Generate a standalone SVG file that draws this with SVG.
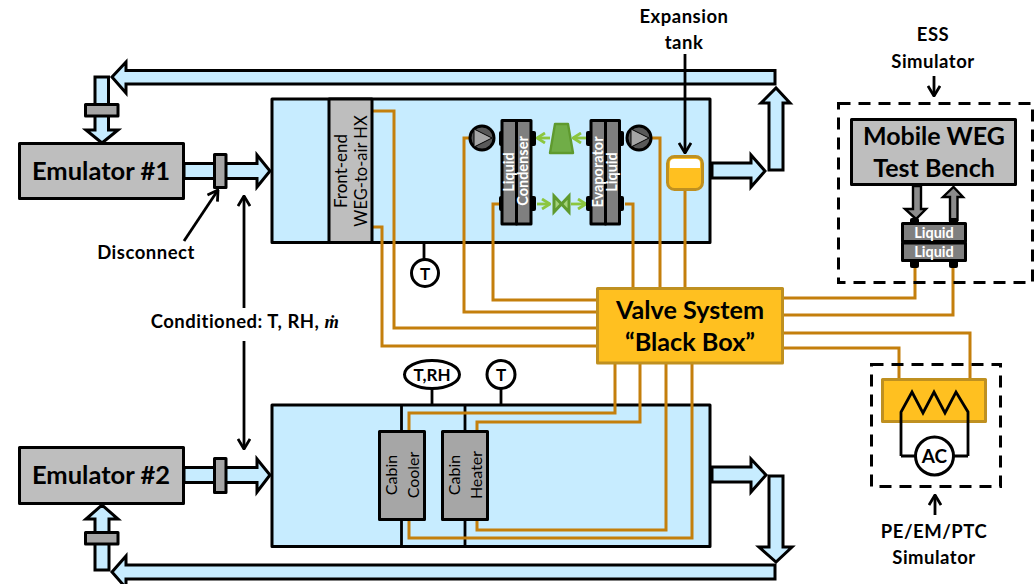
<svg xmlns="http://www.w3.org/2000/svg" width="1034" height="584" viewBox="0 0 1034 584">
<style>
text{font-family:Lato,"Open Sans","Liberation Sans",sans-serif;font-weight:700;fill:#000;text-anchor:middle}
.pipe{fill:#C7ECFF;stroke:#000;stroke-width:3;stroke-linejoin:miter}
.gray{fill:#BEBEBE;stroke:#000;stroke-width:3;stroke-linejoin:round}
.dgray{fill:#A6A6A6;stroke:#000;stroke-width:3;stroke-linejoin:round}
.box{fill:#C7ECFF;stroke:#000;stroke-width:3;stroke-linejoin:round}
.or{fill:none;stroke:#C47F0C;stroke-width:3}
.blk{fill:none;stroke:#000;stroke-width:2.800}
.gold{fill:#FFC020;stroke:#BF9020;stroke-width:3;stroke-linejoin:round}
.circ{fill:#fff;stroke:#000;stroke-width:3}
.hx{fill:#7F7F7F;stroke:#000;stroke-width:3;stroke-linejoin:round}
.tab{fill:#000}
.grn{fill:none;stroke:#8CC63F;stroke-width:2.800}
.wt{fill:#fff;font-size:14.500px}
.rot{font-size:16px;font-weight:400}
.dash{fill:none;stroke:#000;stroke-width:3;stroke-dasharray:12 8}
.lbl{font-size:18.500px;letter-spacing:.5px}
</style>
<defs>
<marker id="ah" viewBox="0 0 12 14" refX="11" refY="7" markerWidth="12" markerHeight="14" markerUnits="userSpaceOnUse" orient="auto"><path d="M1 1L11 7L1 13" fill="none" stroke="#000" stroke-width="2.800"/></marker>
<marker id="gh" viewBox="0 0 10 12" refX="9" refY="6" markerWidth="10" markerHeight="12" markerUnits="userSpaceOnUse" orient="auto"><path d="M1 1L9 6L1 11" fill="none" stroke="#8CC63F" stroke-width="2.800"/></marker>
</defs>

<g id="cabin-front-box"><rect class="box" x="272" y="99" width="438" height="143.500"/></g>
<g id="cabin-rear-box"><rect class="box" x="272" y="405" width="438" height="141.500"/>
<path class="blk" d="M401.500 405V431M401.500 520V546M465 405V431M465 520V546"/></g>

<g id="connectors">
<path class="pipe" d="M775 70.500H126V62L112 77L126 93V84H775Z"/>
<path class="pipe" d="M95 77H108.500V130H118L102 143L86 130H95Z"/>
<path class="pipe" d="M184 163.500H257V155L270 171L257 187V178.500H184Z"/>
<path class="pipe" d="M184 467.500H257V459L270 475L257 492V482.500H184Z"/>
<path class="pipe" d="M712 163H751V155L765 171L751 187V178H712Z"/>
<path class="pipe" d="M769 170V103H761L776 88L790 103H783V170Z"/>
<path class="pipe" d="M712 467H751V459L766 475L751 492V482H712Z"/>
<path class="pipe" d="M769 476H783V547H792L776 562L759 547H769Z"/>
<path class="pipe" d="M775 565H126V556L112 572L126 588V579H775Z"/>
<path class="pipe" d="M95 570V519H86L102 505L118 519H109V570Z"/>
<path class="or" d="M372 111H394V328H597"/>
<path class="or" d="M372 227H382V346H597"/>
<path class="or" d="M495 138H470M470 138H464V312H597"/>
<path class="or" d="M499 204H493V300H597"/>
<path class="or" d="M625 204H633V288"/>
<path class="or" d="M652 138H660V288"/>
<path class="or" d="M685 190V288"/>
<path class="or" d="M783 298H915V268"/>
<path class="or" d="M783 315H953V268"/>
<path class="or" d="M783 333H970V379"/>
<path class="or" d="M783 348H899V379"/>
<path class="or" d="M615 363V413H409V431"/>
<path class="or" d="M640 363V422H477V431"/>
<path class="or" d="M666 363V530H477V520"/>
<path class="or" d="M692 363V538H409V520"/>
<path class="blk" d="M184 241L218 190" marker-end="url(#ah)"/>
<path class="blk" d="M244 308V196" marker-end="url(#ah)"/>
<path class="blk" d="M244 341V449" marker-end="url(#ah)"/>
<path class="blk" d="M685 54V153" marker-end="url(#ah)"/>
<path class="blk" d="M934 76V96" marker-end="url(#ah)"/>
<path class="blk" d="M935 515V495" marker-end="url(#ah)"/>
<path class="blk" d="M424 243V259"/>
<path class="blk" d="M432 389V405"/>
<path class="blk" d="M501 389V405"/>
<path class="grn" d="M586 138H573" marker-end="url(#gh)"/>
<path class="grn" d="M550 138H537" marker-end="url(#gh)"/>
<path class="grn" d="M537 204H550" marker-end="url(#gh)"/>
<path class="grn" d="M571 204H586" marker-end="url(#gh)"/>
<path d="M913 186H921V209H926L916 219L905 209H913Z" fill="#8C8C8C" stroke="#000" stroke-width="2.400"/>
<path d="M950 220V197H943L953.500 187L963 197H957.500V220Z" fill="#8C8C8C" stroke="#000" stroke-width="2.400"/>
</g>

<g id="disconnect-1"><rect class="dgray" x="214.500" y="154.500" width="11.500" height="33"/></g>
<g id="disconnect-2"><rect class="dgray" x="85.500" y="104.500" width="32.500" height="11.500"/></g>
<g id="disconnect-3"><rect class="dgray" x="214.500" y="458.500" width="11.500" height="34"/></g>
<g id="disconnect-4"><rect class="dgray" x="85.500" y="532.500" width="32.500" height="11.500"/></g>

<g id="emulator-1"><rect class="gray" x="19.500" y="143.500" width="164" height="55"/><text x="101" y="180" font-size="25.500">Emulator #1</text></g>
<g id="emulator-2"><rect class="gray" x="19.500" y="447.500" width="164" height="56"/><text x="101" y="484" font-size="25.500">Emulator #2</text></g>

<g id="hx"><rect class="gray" x="329" y="99" width="43" height="143.500"/>
<text class="rot" transform="translate(347 171) rotate(-90)" style="font-size:17px">Front-end</text>
<text class="rot" transform="translate(367 171) rotate(-90)" style="font-size:16.500px">WEG-to-air HX</text></g>

<g id="pump-left"><circle cx="482" cy="138" r="12" fill="#595959" stroke="#000" stroke-width="3"/><path d="M474 129L492 138L474 147Z" fill="#A6A6A6" stroke="#000"/></g>
<g id="pump-right"><circle cx="639" cy="138" r="12" fill="#595959" stroke="#000" stroke-width="3"/><path d="M631 129L649 138L631 147Z" fill="#A6A6A6" stroke="#000"/></g>

<g id="condenser">
<rect class="tab" x="499" y="196" width="6" height="15" rx="2"/><rect class="tab" x="529" y="131" width="7" height="15" rx="2"/><rect class="tab" x="529" y="196" width="7" height="15" rx="2"/><rect class="tab" x="499" y="131" width="6" height="15" rx="2"/>
<rect class="hx" x="502" y="120.500" width="14.500" height="103.500"/><rect class="hx" x="516.500" y="120.500" width="14.500" height="103.500"/>
<text class="wt" transform="translate(514 172) rotate(-90)">Liquid</text>
<text class="wt" transform="translate(528 171) rotate(-90)">Condenser</text></g>
<g id="evaporator">
<rect class="tab" x="586" y="131" width="7" height="15" rx="2"/><rect class="tab" x="586" y="196" width="7" height="15" rx="2"/><rect class="tab" x="617" y="131" width="7" height="15" rx="2"/><rect class="tab" x="617" y="196" width="7" height="15" rx="2"/>
<rect class="hx" x="591" y="120.500" width="14.500" height="103.500"/><rect class="hx" x="605.500" y="120.500" width="14" height="103.500"/>
<text class="wt" transform="translate(603 172) rotate(-90)">Evaporator</text>
<text class="wt" transform="translate(617 172) rotate(-90)">Liquid</text></g>
<g id="compressor"><path d="M555 124H568L573 153H550Z" fill="#70AD47" stroke="#5F9A2E" stroke-width="2.400" stroke-linejoin="round"/></g>
<g id="valve"><path d="M554 196L569 212V196L554 212Z" fill="#A5D27A" stroke="#5F9A2E" stroke-width="3"/></g>

<g id="tank"><rect x="667.500" y="156.500" width="35" height="33" rx="7" fill="#FFC020" stroke="#BF9020" stroke-width="3"/><path d="M670 168V163Q670 159 674 159H696Q700 159 700 163V168Z" fill="#fff"/></g>

<g id="sensor-t1"><circle class="circ" cx="425" cy="273" r="13.500"/><text x="425" y="279.500" font-size="17">T</text></g>
<g id="sensor-trh"><ellipse class="circ" cx="432" cy="374.500" rx="27.500" ry="14"/><text x="432" y="381" font-size="17">T,RH</text></g>
<g id="sensor-t2"><circle class="circ" cx="501" cy="374.500" r="14"/><text x="501" y="381" font-size="17">T</text></g>

<g id="cabin-cooler"><rect class="dgray" x="379.500" y="431.500" width="45" height="88"/>
<text class="rot" transform="translate(397 475) rotate(-90)">Cabin</text>
<text class="rot" transform="translate(418.500 475) rotate(-90)">Cooler</text></g>
<g id="cabin-heater"><rect class="dgray" x="442.500" y="431.500" width="45" height="88"/>
<text class="rot" transform="translate(460 475) rotate(-90)">Cabin</text>
<text class="rot" transform="translate(481.500 475) rotate(-90)">Heater</text></g>

<g id="valve-system"><rect class="gold" x="597.500" y="288.500" width="185" height="74.500"/>
<text x="690" y="319" font-size="25.200">Valve System</text><text x="690" y="351" font-size="25.200">“Black Box”</text></g>

<g id="ess"><rect class="dash" x="838.500" y="103.500" width="194" height="179"/>
<rect class="gray" x="851.500" y="119.500" width="164" height="65"/>
<text x="934" y="145" font-size="25">Mobile WEG</text><text x="934" y="177" font-size="25">Test Bench</text>
<rect class="tab" x="910" y="218" width="9" height="7" rx="2"/><rect class="tab" x="949" y="218" width="9" height="7" rx="2"/><rect class="tab" x="910" y="259" width="9" height="9" rx="2"/><rect class="tab" x="949" y="259" width="9" height="9" rx="2"/>
<rect class="hx" x="902.500" y="223.500" width="63" height="18"/><rect class="hx" x="902.500" y="243" width="63" height="17.500"/>
<text class="wt" x="934" y="238">Liquid</text><text class="wt" x="934" y="257">Liquid</text></g>

<g id="pe-sim"><rect class="dash" x="871.500" y="364.500" width="129" height="122"/>
<rect class="gold" x="882.500" y="379.500" width="103" height="42"/>
<path d="M901 456V412L912 392L923 413L934 392L945 413L956 392L968 412V456" class="blk"/>
<path d="M901 456H916M968 456H953" class="blk"/>
<circle class="circ" cx="934.500" cy="456" r="19"/><text x="934.500" y="463" font-size="19">AC</text></g>

<g id="labels">
<text class="lbl" x="146" y="259">Disconnect</text>
<text class="lbl" x="245" y="328">Conditioned: T, RH, <tspan font-family="Liberation Serif" font-style="italic">ṁ</tspan></text>
<text class="lbl" x="684" y="23">Expansion</text><text class="lbl" x="684" y="49">tank</text>
<text class="lbl" x="933" y="41">ESS</text><text class="lbl" x="933" y="68">Simulator</text>
<text class="lbl" x="934" y="538">PE/EM/PTC</text><text class="lbl" x="934" y="564">Simulator</text>
</g>
</svg>
